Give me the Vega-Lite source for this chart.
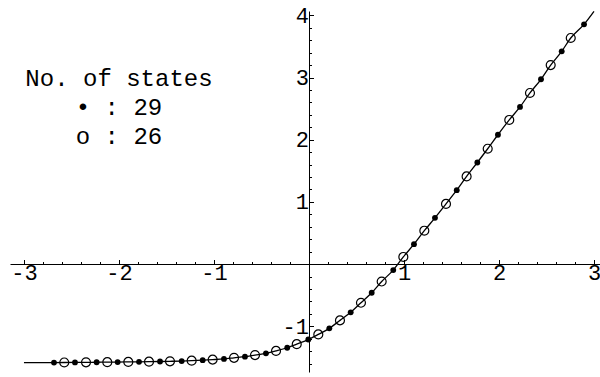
{
  "$schema": "https://vega.github.io/schema/vega-lite/v6.json",
  "width": 590,
  "height": 361,
  "padding": {"left": 10, "top": 11, "right": 0, "bottom": 5},
  "autosize": {"type": "none"},
  "background": "white",
  "config": {"view": {"stroke": null}},
  "datasets": {
    "pts": [
      {"x": -3.0, "y": -1.585, "kind": "curve"},
      {"x": -2.684, "y": -1.583, "kind": "filled"},
      {"x": -2.576, "y": -1.582, "kind": "open"},
      {"x": -2.463, "y": -1.581, "kind": "filled"},
      {"x": -2.347, "y": -1.580, "kind": "open"},
      {"x": -2.235, "y": -1.578, "kind": "filled"},
      {"x": -2.123, "y": -1.577, "kind": "open"},
      {"x": -2.014, "y": -1.575, "kind": "filled"},
      {"x": -1.902, "y": -1.573, "kind": "open"},
      {"x": -1.789, "y": -1.571, "kind": "filled"},
      {"x": -1.684, "y": -1.569, "kind": "open"},
      {"x": -1.568, "y": -1.566, "kind": "filled"},
      {"x": -1.463, "y": -1.563, "kind": "open"},
      {"x": -1.340, "y": -1.559, "kind": "filled"},
      {"x": -1.235, "y": -1.553, "kind": "open"},
      {"x": -1.119, "y": -1.545, "kind": "filled"},
      {"x": -1.014, "y": -1.536, "kind": "open"},
      {"x": -0.895, "y": -1.524, "kind": "filled"},
      {"x": -0.789, "y": -1.507, "kind": "open"},
      {"x": -0.674, "y": -1.489, "kind": "filled"},
      {"x": -0.568, "y": -1.463, "kind": "open"},
      {"x": -0.453, "y": -1.435, "kind": "filled"},
      {"x": -0.347, "y": -1.396, "kind": "open"},
      {"x": -0.229, "y": -1.345, "kind": "filled"},
      {"x": -0.129, "y": -1.287, "kind": "open"},
      {"x": -0.007, "y": -1.213, "kind": "filled"},
      {"x": 0.098, "y": -1.131, "kind": "open"},
      {"x": 0.214, "y": -1.033, "kind": "filled"},
      {"x": 0.326, "y": -0.905, "kind": "open"},
      {"x": 0.439, "y": -0.776, "kind": "filled"},
      {"x": 0.547, "y": -0.622, "kind": "open"},
      {"x": 0.660, "y": -0.461, "kind": "filled"},
      {"x": 0.765, "y": -0.280, "kind": "open"},
      {"x": 0.887, "y": -0.096, "kind": "filled"},
      {"x": 0.993, "y": 0.115, "kind": "open"},
      {"x": 1.105, "y": 0.321, "kind": "filled"},
      {"x": 1.214, "y": 0.537, "kind": "open"},
      {"x": 1.326, "y": 0.744, "kind": "filled"},
      {"x": 1.442, "y": 0.968, "kind": "open"},
      {"x": 1.555, "y": 1.189, "kind": "filled"},
      {"x": 1.659, "y": 1.410, "kind": "open"},
      {"x": 1.772, "y": 1.634, "kind": "filled"},
      {"x": 1.881, "y": 1.855, "kind": "open"},
      {"x": 1.989, "y": 2.080, "kind": "filled"},
      {"x": 2.108, "y": 2.318, "kind": "open"},
      {"x": 2.221, "y": 2.527, "kind": "filled"},
      {"x": 2.326, "y": 2.752, "kind": "open"},
      {"x": 2.442, "y": 2.972, "kind": "filled"},
      {"x": 2.544, "y": 3.200, "kind": "open"},
      {"x": 2.660, "y": 3.422, "kind": "filled"},
      {"x": 2.755, "y": 3.636, "kind": "open"},
      {"x": 2.895, "y": 3.855, "kind": "filled"},
      {"x": 3.0, "y": 4.064, "kind": "curve"}
    ],
    "legend": [
      {"x": -2.0, "y": 2.862, "text": "No. of states"},
      {"x": -2.0, "y": 2.396, "text": "• : 29"},
      {"x": -2.0, "y": 1.930, "text": "o : 26"}
    ]
  },
  "resolve": {"axis": {"x": "independent", "y": "independent"}},
  "layer": [
    {
      "data": {"name": "pts"},
      "mark": {"type": "line", "color": "black", "strokeWidth": 1.3, "interpolate": "monotone"},
      "encoding": {
        "x": {
          "field": "x", "type": "quantitative",
          "scale": {"domain": [-3.147, 3.063], "nice": false, "zero": false},
          "axis": {
            "orient": "bottom", "title": null, "grid": false, "offset": -108,
            "values": [-3, -2, -1, 1, 2, 3],
            "labelExpr": "'' + datum.value",
            "labelFlush": false, "labelOverlap": false,
            "labelFont": "Liberation Mono", "labelFontSize": 22, "labelColor": "black", "labelPadding": 3,
            "domainColor": "black", "domainWidth": 1,
            "tickColor": "black", "tickWidth": 1, "tickSize": -4.5
          }
        },
        "y": {
          "field": "y", "type": "quantitative",
          "scale": {"domain": [-1.735, 4.07], "nice": false, "zero": false},
          "axis": {
            "orient": "left", "title": null, "grid": false, "offset": -299,
            "values": [-1, 1, 2, 3, 4],
            "labelExpr": "'' + datum.value",
            "labelFlush": false, "labelOverlap": false,
            "labelFont": "Liberation Mono", "labelFontSize": 22, "labelColor": "black", "labelPadding": 5,
            "domainColor": "black", "domainWidth": 1,
            "tickColor": "black", "tickWidth": 1, "tickSize": -4.5
          }
        }
      }
    },
    {
      "data": {"name": "pts"},
      "transform": [{"filter": "datum.kind === 'filled'"}],
      "mark": {"type": "point", "shape": "circle", "filled": true, "color": "black", "size": 34, "opacity": 1},
      "encoding": {
        "x": {
          "field": "x", "type": "quantitative",
          "axis": {
            "orient": "bottom", "title": null, "grid": false, "offset": -108,
            "values": [-2.8, -2.6, -2.4, -2.2, -1.8, -1.6, -1.4, -1.2, -0.8, -0.6, -0.4, -0.2, 0.2, 0.4, 0.6, 0.8, 1.2, 1.4, 1.6, 1.8, 2.2, 2.4, 2.6, 2.8],
            "labels": false, "domain": false,
            "tickColor": "black", "tickWidth": 1, "tickSize": -2.5
          }
        },
        "y": {
          "field": "y", "type": "quantitative",
          "axis": {
            "orient": "left", "title": null, "grid": false, "offset": -299,
            "values": [-1.6, -1.4, -1.2, -0.8, -0.6, -0.4, -0.2, 0.2, 0.4, 0.6, 0.8, 1.2, 1.4, 1.6, 1.8, 2.2, 2.4, 2.6, 2.8, 3.2, 3.4, 3.6, 3.8],
            "labels": false, "domain": false,
            "tickColor": "black", "tickWidth": 1, "tickSize": -2.5
          }
        }
      }
    },
    {
      "data": {"name": "pts"},
      "transform": [{"filter": "datum.kind === 'open'"}],
      "mark": {"type": "point", "shape": "circle", "filled": false, "color": "black", "size": 80, "strokeWidth": 1.2, "opacity": 1},
      "encoding": {
        "x": {"field": "x", "type": "quantitative", "axis": null},
        "y": {"field": "y", "type": "quantitative", "axis": null}
      }
    },
    {
      "data": {"name": "legend"},
      "mark": {"type": "text", "font": "Liberation Mono", "fontSize": 24, "color": "black", "align": "center", "baseline": "alphabetic"},
      "encoding": {
        "x": {"field": "x", "type": "quantitative", "axis": null},
        "y": {"field": "y", "type": "quantitative", "axis": null},
        "text": {"field": "text"}
      }
    }
  ]
}
